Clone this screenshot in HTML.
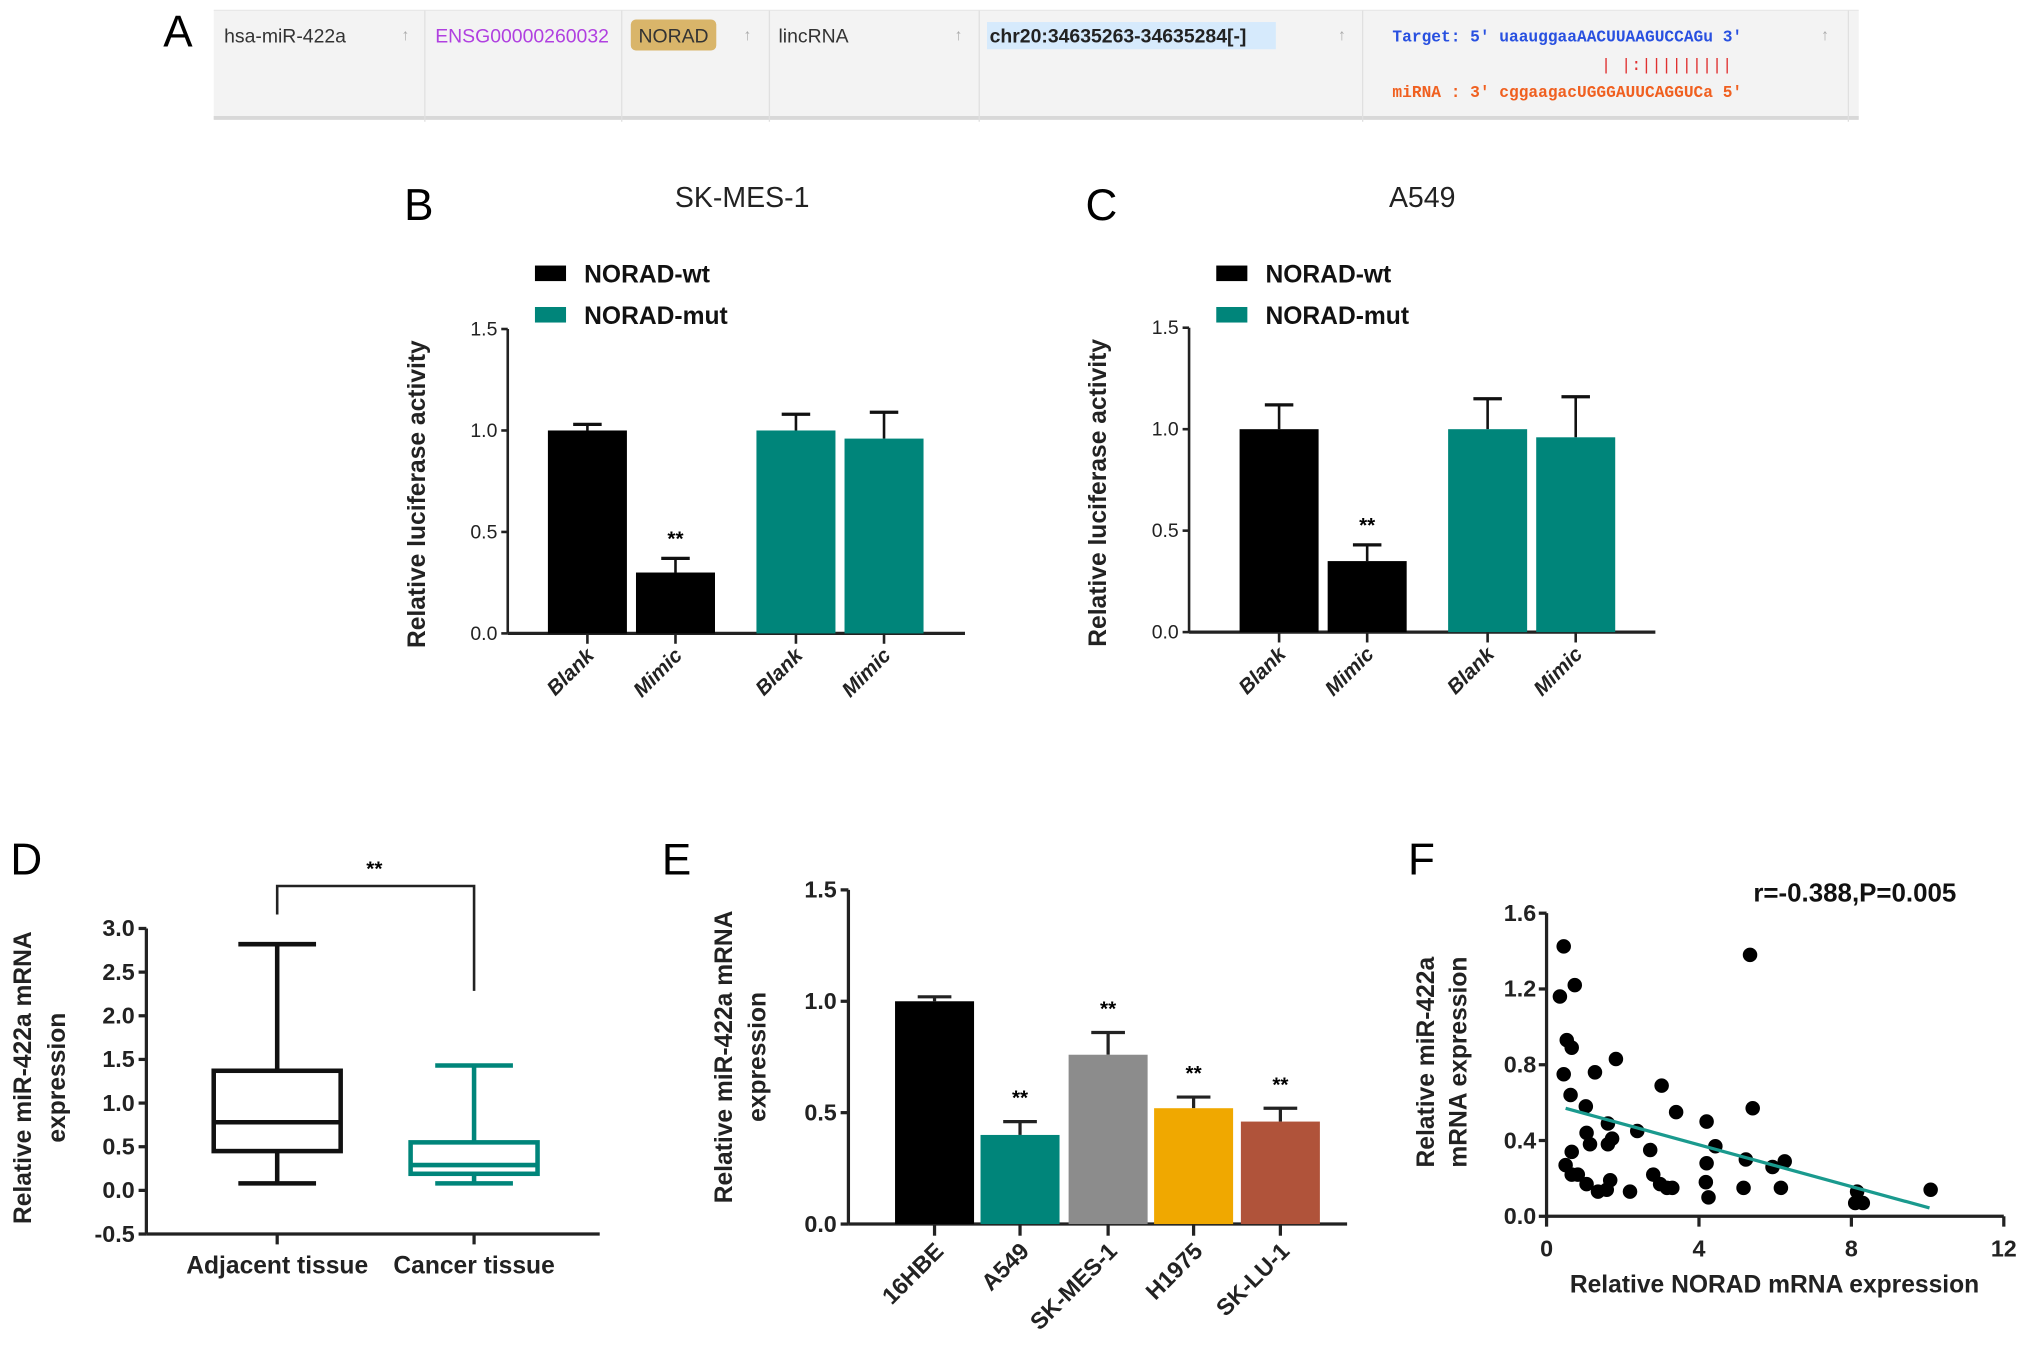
<!DOCTYPE html>
<html><head><meta charset="utf-8"><style>
html,body{margin:0;padding:0;background:#fff;}
svg{display:block;font-family:"Liberation Sans",Arial,sans-serif;}
</style></head><body>
<svg id="fig" width="2031" height="1358" viewBox="0 0 1568 1048.4" xmlns="http://www.w3.org/2000/svg">
<g>
<text x="126" y="36" font-size="34">A</text>
<rect x="165" y="8" width="1270" height="84" fill="#f3f3f3"/>
<line x1="165" y1="91" x2="1435" y2="91" stroke="#d8d8d8" stroke-width="3"/>
<line x1="165" y1="8" x2="1435" y2="8" stroke="#e8e8e8" stroke-width="1"/>
<g stroke="#e0e0e0" stroke-width="1">
<line x1="328" y1="8" x2="328" y2="94"/><line x1="480" y1="8" x2="480" y2="94"/><line x1="594" y1="8" x2="594" y2="94"/><line x1="756" y1="8" x2="756" y2="94"/><line x1="1052" y1="8" x2="1052" y2="94"/><line x1="1427" y1="8" x2="1427" y2="94"/>
</g>
<g font-size="15" fill="#333">
<text x="173" y="33">hsa-miR-422a</text>
<text x="310" y="31" fill="#aaa" font-size="12">↑</text>
<text x="336" y="33" fill="#b040e0">ENSG00000260032</text>
<rect x="487" y="15" width="66" height="24" rx="4" fill="#d9b56a"/>
<text x="520" y="33" text-anchor="middle" fill="#333">NORAD</text>
<text x="574" y="31" fill="#aaa" font-size="12">↑</text>
<text x="601" y="33">lincRNA</text>
<text x="737" y="31" fill="#aaa" font-size="12">↑</text>
<rect x="762" y="17" width="223" height="21" fill="#d6eafc"/>
<text x="764" y="33" font-weight="bold" fill="#222">chr20:34635263-34635284[-]</text>
<text x="1033" y="31" fill="#aaa" font-size="12">↑</text>
<text x="1075" y="32" font-family="Liberation Mono,monospace" font-size="12.5" fill="#2850e0" font-weight="bold">Target: 5' uaauggaaAACUUAAGUCCAGu 3'</text>
<text x="1236" y="54" font-family="Liberation Mono,monospace" font-size="13" fill="#e03030">| |:|||||||||</text>
<text x="1075" y="75" font-family="Liberation Mono,monospace" font-size="12.5" fill="#f06020" font-weight="bold">miRNA : 3' cggaagacUGGGAUUCAGGUCa 5'</text>
<text x="1406" y="31" fill="#aaa" font-size="12">↑</text>
</g>
</g>
<g id="B"></g>
<g id="C"></g>
<g id="D"></g>
<g id="E"></g>
<g id="F"></g>
</svg>
<script>
const NS="http://www.w3.org/2000/svg";
// ---- B/C data
const bcCategories=["Blank","Mimic","Blank","Mimic"];
const bcSeries=["NORAD-wt","NORAD-wt","NORAD-mut","NORAD-mut"];
const bValues=[1.0,0.30,1.0,0.96];
const bErrors=[0.03,0.07,0.08,0.13];
const cValues=[1.0,0.35,1.0,0.96];
const cErrors=[0.12,0.08,0.15,0.20];
const bcTicks=[0,0.5,1.0,1.5];
const bcTickLabels=["0.0","0.5","1.0","1.5"];
// ---- D data
const dGroups=["Adjacent tissue","Cancer tissue"];
const dMin=[0.08,0.08];
const dQ1=[0.45,0.19];
const dMedian=[0.78,0.29];
const dQ3=[1.37,0.55];
const dMax=[2.82,1.43];
const dTicks=[-0.5,0,0.5,1.0,1.5,2.0,2.5,3.0];
const dTickLabels=["-0.5","0.0","0.5","1.0","1.5","2.0","2.5","3.0"];
// ---- E data
const eCategories=["16HBE","A549","SK-MES-1","H1975","SK-LU-1"];
const eValues=[1.0,0.40,0.76,0.52,0.46];
const eErrors=[0.02,0.06,0.10,0.05,0.06];
const eSig=["","**","**","**","**"];
const eTicks=[0,0.5,1.0,1.5];
const eTickLabels=["0.0","0.5","1.0","1.5"];
// ---- F data
const fX=[0.45,0.35,0.74,0.53,0.66,0.45,0.63,1.03,1.27,1.82,0.66,0.5,0.66,0.82,1.05,1.05,1.14,1.35,1.61,1.61,1.72,1.67,1.58,2.19,2.38,2.72,2.8,2.98,3.02,3.16,3.3,3.4,4.2,4.2,4.18,4.25,4.43,5.34,5.41,5.23,5.17,5.93,6.25,6.15,8.15,8.1,8.3,10.08];
const fY=[1.425,1.16,1.22,0.93,0.89,0.75,0.64,0.58,0.76,0.83,0.34,0.27,0.22,0.22,0.17,0.44,0.38,0.13,0.49,0.38,0.41,0.19,0.14,0.13,0.45,0.35,0.22,0.17,0.69,0.15,0.15,0.55,0.50,0.28,0.18,0.10,0.37,1.38,0.57,0.30,0.15,0.26,0.29,0.15,0.13,0.07,0.07,0.14];
const fFitX=[0.5,10.05];
const fFitY=[0.57,0.044];
const fXTicks=[0,4,8,12];
const fYTicks=[0,0.4,0.8,1.2,1.6];
const fYTickLabels=["0.0","0.4","0.8","1.2","1.6"];

function mk(parent,tag,attrs,text){const e=document.createElementNS(NS,tag);for(const k in attrs)e.setAttribute(k,attrs[k]);if(text!==undefined)e.textContent=text;parent.appendChild(e);return e;}
const TEAL="#00857a";

function luciferase(gid,letter,title,values,errors,ax){
  const g=document.getElementById(gid);
  const y=v=>ax.y0-(v/1.5)*(ax.y0-ax.y15);
  let t;
  t=mk(g,"text",{x:ax.x-80,y:170,"font-size":34},letter);
  
  
  t=mk(g,"text",{x:ax.title,y:160,"font-size":22,"text-anchor":"middle",fill:"#222"},title);
  
  
  const leg=[["NORAD-wt","#000",216],["NORAD-mut",TEAL,248]];
  leg.forEach(l=>{
    const r=mk(g,"rect",{x:ax.x+21,y:l[2]-11,width:24,height:12,fill:l[1]});
    
    
    const tx=mk(g,"text",{x:ax.x+59,y:l[2]+2,"font-size":19,"font-weight":"bold",fill:"#111"},l[0]);
    
    
  });
  mk(g,"line",{x1:ax.x,y1:ax.y15,x2:ax.x,y2:ax.y0,stroke:"#222","stroke-width":2});
  mk(g,"line",{x1:ax.x,y1:ax.y0,x2:ax.xend,y2:ax.y0,stroke:"#222","stroke-width":2.5});
  bcTicks.forEach((v,i)=>{
    mk(g,"line",{x1:ax.x-5,y1:y(v),x2:ax.x,y2:y(v),stroke:"#222","stroke-width":2});
    const tl=mk(g,"text",{x:ax.x-8,y:y(v)+5,"font-size":15,"text-anchor":"end",fill:"#222"},bcTickLabels[i]);
    
    
  });
  const yt=mk(g,"text",{transform:`translate(${ax.x-64},${(ax.y0+ax.y15)/2+10}) rotate(-90)`,"font-size":19,"font-weight":"bold","text-anchor":"middle",fill:"#222"},"Relative luciferase activity");
  
  
  values.forEach((v,i)=>{
    const x0=ax.bars[i],w=61,cx=x0+w/2,col=bcSeries[i]==="NORAD-wt"?"#000":TEAL;
    const top=y(v+errors[i]);
    mk(g,"line",{x1:cx,y1:y(v),x2:cx,y2:top,stroke:"#111","stroke-width":2});
    mk(g,"line",{x1:cx-11,y1:top,x2:cx+11,y2:top,stroke:"#111","stroke-width":2.5});
    const r=mk(g,"rect",{x:x0,y:y(v),width:w,height:ax.y0-y(v),fill:col});
    
    
    mk(g,"line",{x1:cx,y1:ax.y0,x2:cx,y2:ax.y0+8,stroke:"#222","stroke-width":2});
    const tl=mk(g,"text",{transform:`translate(${cx+6},${ax.y0+18}) rotate(-45)`,"font-size":16,"font-weight":"bold","font-style":"italic","text-anchor":"end",fill:"#222"},bcCategories[i]);
    
    
    if(i===1){const s=mk(g,"text",{x:cx,y:top-10,"font-size":16,"font-weight":"bold","text-anchor":"middle"},"**");
      
      }
  });
}
luciferase("B","B","SK-MES-1",bValues,bErrors,{x:392,y0:489,y15:254,xend:745,title:573,bars:[423,491,584,652]});
luciferase("C","C","A549",cValues,cErrors,{x:918,y0:488,y15:253,xend:1278,title:1098,bars:[957,1025,1118,1186]});

// ---- D
(function(){
  const g=document.getElementById("D");
  const AX=113,Y0=919,PER=67.4; const y=v=>Y0-v*PER; const xs=[214,366]; const cols=["#111",TEAL];
  let t=mk(g,"text",{x:8,y:675,"font-size":34},"D");
  
  
  mk(g,"line",{x1:AX,y1:y(3),x2:AX,y2:y(-0.5),stroke:"#222","stroke-width":2.5});
  mk(g,"line",{x1:AX,y1:y(-0.5),x2:463,y2:y(-0.5),stroke:"#222","stroke-width":2.5});
  dTicks.forEach((v,i)=>{
    mk(g,"line",{x1:AX-6,y1:y(v),x2:AX,y2:y(v),stroke:"#222","stroke-width":2.5});
    const tl=mk(g,"text",{x:AX-9,y:y(v)+6,"font-size":18,"font-weight":"bold","text-anchor":"end",fill:"#222"},dTickLabels[i]);
    
    
  });
  t=mk(g,"text",{transform:`translate(24,832) rotate(-90)`,"font-size":19,"font-weight":"bold","text-anchor":"middle",fill:"#222"},"Relative miR-422a mRNA");
  
  
  t=mk(g,"text",{transform:`translate(50,832) rotate(-90)`,"font-size":19,"font-weight":"bold","text-anchor":"middle",fill:"#222"},"expression");
  
  
  dGroups.forEach((n,i)=>{
    const cx=xs[i],c=cols[i],hw=49,cw=30;
    const bg=mk(g,"g",{stroke:c,"stroke-width":3.5,fill:"none"});
    
    
    mk(bg,"line",{x1:cx,y1:y(dMax[i]),x2:cx,y2:y(dQ3[i])});
    mk(bg,"line",{x1:cx,y1:y(dQ1[i]),x2:cx,y2:y(dMin[i])});
    mk(bg,"line",{x1:cx-cw,y1:y(dMax[i]),x2:cx+cw,y2:y(dMax[i])});
    mk(bg,"line",{x1:cx-cw,y1:y(dMin[i]),x2:cx+cw,y2:y(dMin[i])});
    mk(bg,"rect",{x:cx-hw,y:y(dQ3[i]),width:2*hw,height:y(dQ1[i])-y(dQ3[i])});
    mk(bg,"line",{x1:cx-hw,y1:y(dMedian[i]),x2:cx+hw,y2:y(dMedian[i])});
    mk(g,"line",{x1:cx,y1:y(-0.5),x2:cx,y2:y(-0.5)+8,stroke:"#222","stroke-width":2.5});
    const tl=mk(g,"text",{x:cx,y:983,"font-size":19,"font-weight":"bold","text-anchor":"middle",fill:"#222"},n);
    
    
  });
  const br=mk(g,"polyline",{points:`214,706 214,684 366,684 366,765`,fill:"none",stroke:"#222","stroke-width":2});
  
  
  t=mk(g,"text",{x:289,y:676,"font-size":16,"font-weight":"bold","text-anchor":"middle"},"**");
  
  
})();

// ---- E
(function(){
  const g=document.getElementById("E");
  const AX=655,Y0=945,Y15=687; const y=v=>Y0-(v/1.5)*(Y0-Y15);
  const bars=[691,757,825,891,958]; const cols=["#000",TEAL,"#8c8c8c","#f0a800","#b0533a"];
  let t=mk(g,"text",{x:511,y:675,"font-size":34},"E");
  
  
  mk(g,"line",{x1:AX,y1:Y15,x2:AX,y2:Y0,stroke:"#222","stroke-width":2.5});
  mk(g,"line",{x1:AX,y1:Y0,x2:1040,y2:Y0,stroke:"#222","stroke-width":2.5});
  eTicks.forEach((v,i)=>{
    mk(g,"line",{x1:AX-6,y1:y(v),x2:AX,y2:y(v),stroke:"#222","stroke-width":2.5});
    const tl=mk(g,"text",{x:AX-9,y:y(v)+6,"font-size":18,"font-weight":"bold","text-anchor":"end",fill:"#222"},eTickLabels[i]);
    
    
  });
  t=mk(g,"text",{transform:`translate(565,816) rotate(-90)`,"font-size":19,"font-weight":"bold","text-anchor":"middle",fill:"#222"},"Relative miR-422a mRNA");
  
  
  t=mk(g,"text",{transform:`translate(591,816) rotate(-90)`,"font-size":19,"font-weight":"bold","text-anchor":"middle",fill:"#222"},"expression");
  
  
  eValues.forEach((v,i)=>{
    const x0=bars[i],w=61,cx=x0+w/2,top=y(v+eErrors[i]);
    mk(g,"line",{x1:cx,y1:y(v),x2:cx,y2:top,stroke:"#222","stroke-width":2.5});
    mk(g,"line",{x1:cx-13,y1:top,x2:cx+13,y2:top,stroke:"#222","stroke-width":2.5});
    const r=mk(g,"rect",{x:x0,y:y(v),width:w,height:Y0-y(v),fill:cols[i]});
    
    
    mk(g,"line",{x1:cx,y1:Y0,x2:cx,y2:Y0+9,stroke:"#222","stroke-width":2.5});
    const tl=mk(g,"text",{transform:`translate(${cx+8},${Y0+22}) rotate(-45)`,"font-size":18,"font-weight":"bold","text-anchor":"end",fill:"#222"},eCategories[i]);
    
    
    if(eSig[i]){const s=mk(g,"text",{x:cx,y:top-13,"font-size":16,"font-weight":"bold","text-anchor":"middle"},eSig[i]);
      
      }
  });
})();

// ---- F
(function(){
  const g=document.getElementById("F");
  const AX=1194,Y0=939,Y16=705,X12=1547;
  const x=v=>AX+v/12*(X12-AX), y=v=>Y0-v/1.6*(Y0-Y16);
  let t=mk(g,"text",{x:1087,y:675,"font-size":34},"F");
  
  
  t=mk(g,"text",{x:1432,y:696,"font-size":20,"font-weight":"bold","text-anchor":"middle",fill:"#111"},"r=-0.388,P=0.005");
  
  
  mk(g,"line",{x1:AX,y1:Y16,x2:AX,y2:Y0,stroke:"#222","stroke-width":2.5});
  mk(g,"line",{x1:AX,y1:Y0,x2:X12,y2:Y0,stroke:"#222","stroke-width":2.5});
  fYTicks.forEach((v,i)=>{
    mk(g,"line",{x1:AX-6,y1:y(v),x2:AX,y2:y(v),stroke:"#222","stroke-width":2.5});
    const tl=mk(g,"text",{x:AX-8,y:y(v)+6,"font-size":18,"font-weight":"bold","text-anchor":"end",fill:"#222"},fYTickLabels[i]);
    
    
  });
  fXTicks.forEach(v=>{
    mk(g,"line",{x1:x(v),y1:Y0,x2:x(v),y2:Y0+8,stroke:"#222","stroke-width":2.5});
    const tl=mk(g,"text",{x:x(v),y:Y0+31,"font-size":18,"font-weight":"bold","text-anchor":"middle",fill:"#222"},String(v));
    
    
  });
  t=mk(g,"text",{x:1370,y:998,"font-size":19,"font-weight":"bold","text-anchor":"middle",fill:"#222"},"Relative NORAD mRNA expression");
  
  
  t=mk(g,"text",{transform:`translate(1107,820) rotate(-90)`,"font-size":19,"font-weight":"bold","text-anchor":"middle",fill:"#222"},"Relative miR-422a");
  
  
  t=mk(g,"text",{transform:`translate(1132,820) rotate(-90)`,"font-size":19,"font-weight":"bold","text-anchor":"middle",fill:"#222"},"mRNA expression");
  
  
  fX.forEach((v,i)=>{
    const c=mk(g,"circle",{cx:x(v),cy:y(fY[i]),r:5.6,fill:"#000"});
    
    
  });
  const l=mk(g,"line",{x1:x(fFitX[0]),y1:y(fFitY[0]),x2:x(fFitX[1]),y2:y(fFitY[1]),stroke:"#1a9a8e","stroke-width":2.5});
  
  
})();
</script>
</body></html>
